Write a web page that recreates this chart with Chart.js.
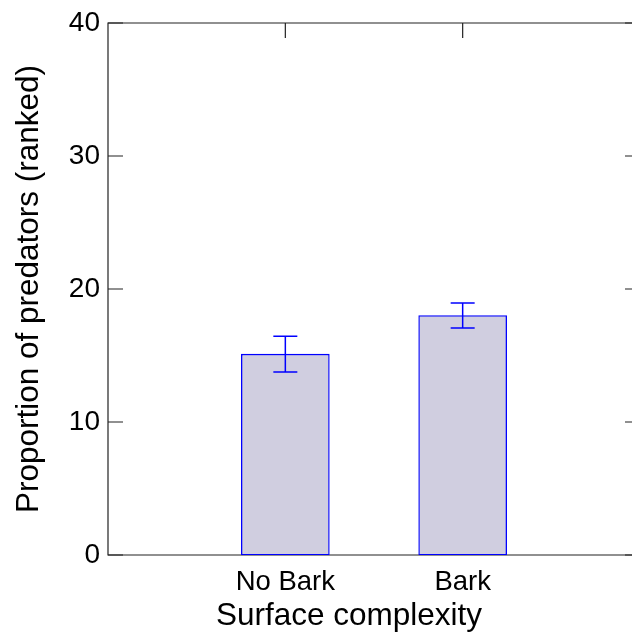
<!DOCTYPE html>
<html>
<head>
<meta charset="utf-8">
<script src="https://cdn.jsdelivr.net/npm/chart.js@4/dist/chart.umd.min.js"></script>
<style>
html,body{margin:0;padding:0;background:#fff;overflow:hidden;width:632px;height:642px;}
canvas{display:block;}
</style>
</head>
<body>
<canvas id="c" width="645" height="642"></canvas>
<script>
// Data
const categories = ['No Bark', 'Bark'];
const categoryX = [1, 2];
const means = [15.1, 18.0];
const errUpper = [16.45, 18.95];
const errLower = [13.76, 17.07];
const yTicks = [0, 10, 20, 30, 40];
const xTitle = 'Surface complexity';
const yTitle = 'Proportion of predators (ranked)';

const FONT = "'Liberation Sans', Arial, Helvetica, sans-serif";

const framePlugin = {
  id: 'frame',
  beforeDatasetsDraw(chart) {
    const {ctx, chartArea: a, scales: {x, y}} = chart;
    ctx.save();
    ctx.strokeStyle = '#222';
    ctx.lineWidth = 1.2;
    ctx.beginPath();
    ctx.rect(a.left, a.top, a.right - a.left, a.bottom - a.top);
    ctx.stroke();
    const tl = 15;
    ctx.beginPath();
    yTicks.forEach(v => {
      const py = y.getPixelForValue(v);
      ctx.moveTo(a.left, py); ctx.lineTo(a.left + tl, py);
      ctx.moveTo(a.right, py); ctx.lineTo(a.right - tl, py);
    });
    categoryX.forEach(v => {
      const px = x.getPixelForValue(v);
      ctx.moveTo(px, a.top); ctx.lineTo(px, a.top + tl);
      ctx.moveTo(px, a.bottom); ctx.lineTo(px, a.bottom - tl);
    });
    ctx.stroke();
    ctx.restore();
  },
  afterDatasetsDraw(chart) {
    const {ctx, scales: {x, y}} = chart;
    ctx.save();
    ctx.strokeStyle = '#0000ff';
    ctx.lineWidth = 1.5;
    const cap = 12;
    ctx.beginPath();
    categoryX.forEach((v, i) => {
      const px = x.getPixelForValue(v);
      const hi = y.getPixelForValue(errUpper[i]);
      const lo = y.getPixelForValue(errLower[i]);
      ctx.moveTo(px, hi); ctx.lineTo(px, lo);
      ctx.moveTo(px - cap, hi); ctx.lineTo(px + cap, hi);
      ctx.moveTo(px - cap, lo); ctx.lineTo(px + cap, lo);
    });
    ctx.stroke();
    ctx.restore();
  },
  afterDraw(chart) {
    const {ctx, chartArea: a} = chart;
    ctx.save();
    ctx.fillStyle = '#000';
    ctx.font = '31.5px ' + FONT;
    ctx.textAlign = 'center';
    ctx.textBaseline = 'middle';
    ctx.fillText(xTitle, a.left + (a.right - a.left) * 0.453, 616);
    ctx.restore();
  }
};

new Chart(document.getElementById('c'), {
  type: 'bar',
  data: {
    datasets: [{
      data: categoryX.map((v, i) => ({x: v, y: means[i]})),
      backgroundColor: 'rgb(208,206,224)',
      borderColor: '#0000ff',
      borderWidth: 1.3,
      borderSkipped: false,
      barThickness: 88
    }]
  },
  options: {
    responsive: false,
    animation: false,
    devicePixelRatio: 1,
    layout: {padding: {top: 23, right: 5, left: 0, bottom: 0}},
    plugins: {legend: {display: false}, tooltip: {enabled: false}},
    scales: {
      x: {
        type: 'linear',
        offset: false,
        min: 0, max: 3,
        grid: {display: false, offset: false},
        border: {display: false},
        afterBuildTicks: s => { s.ticks = categoryX.map(v => ({value: v})); },
        afterFit: s => { s.height = 87; },
        ticks: {
          color: '#000',
          font: {family: FONT, size: 27.5},
          padding: 3,
          maxRotation: 0,
          autoSkip: false,
          callback: v => { const i = categoryX.indexOf(v); return i >= 0 ? categories[i] : ''; }
        },
        title: {display: false}
      },
      y: {
        min: 0, max: 40,
        grid: {display: false},
        border: {display: false},
        afterBuildTicks: s => { s.ticks = yTicks.map(v => ({value: v})); },
        afterFit: s => { s.width = 108; },
        ticks: {
          color: '#000',
          font: {family: FONT, size: 28},
          padding: 0
        },
        title: {
          display: true,
          text: yTitle,
          color: '#000',
          font: {family: FONT, size: 31.5},
          padding: {top: 10, bottom: 0}
        }
      }
    }
  },
  plugins: [framePlugin]
});
</script>
</body>
</html>
